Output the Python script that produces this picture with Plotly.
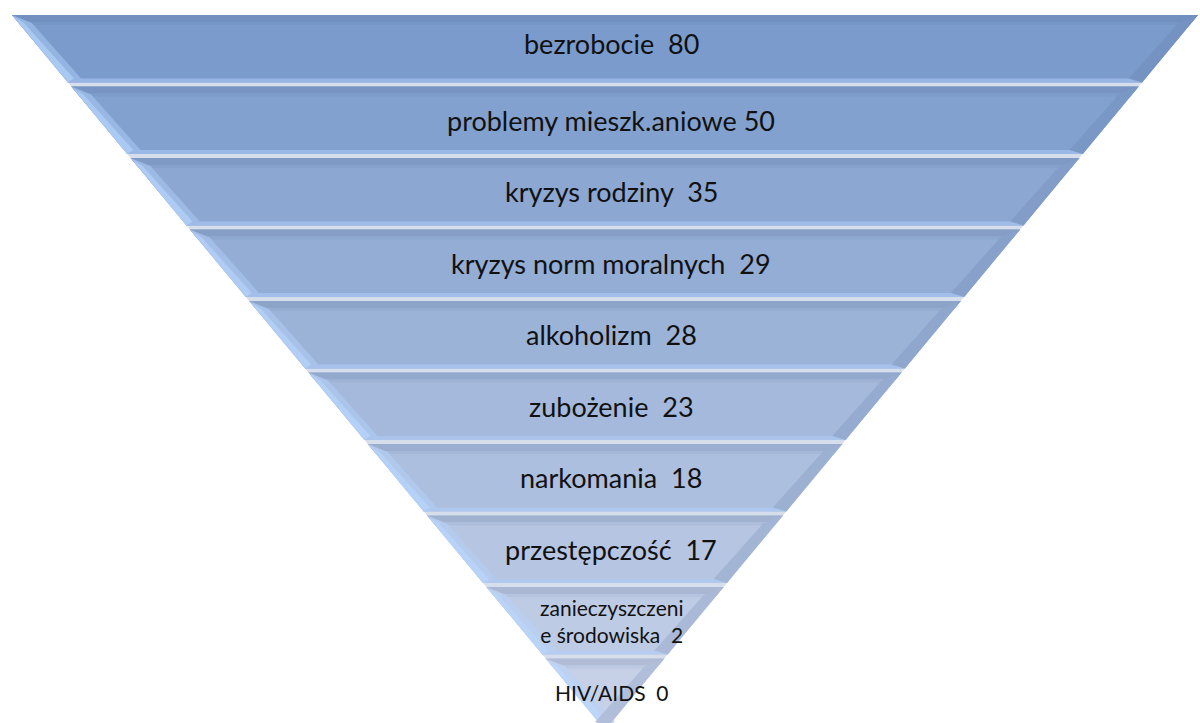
import plotly.graph_objects as go

labels = ["bezrobocie", "problemy mieszk.aniowe", "kryzys rodziny", "kryzys norm moralnych",
          "alkoholizm", "zubożenie", "narkomania", "przestępczość",
          "zanieczyszczeni<br>e środowiska", "HIV/AIDS"]
values = [80, 50, 35, 29, 28, 23, 18, 17, 2, 0]
seps = ["  ", " ", "  ", "  ", "  ", "  ", "  ", "  ", "  ", "  "]

W, H = 1200, 723
CX = 605
TOP_Y, APEX_Y = 15, 730
HALF_TOP = 593
N = len(labels)
LH = (APEX_Y - TOP_Y) / N
GAP = 4

def hw(y):
    return HALF_TOP * (APEX_Y - y) / (APEX_Y - TOP_Y)

def mix(c1, c2, t):
    return tuple(round(a + (b - a) * t) for a, b in zip(c1, c2))

def rgb(c, a=1):
    return f"rgba({c[0]},{c[1]},{c[2]},{a})"

C_TOP = (122, 155, 204)
C_BOT = (198, 209, 232)

fig = go.Figure()

def poly(pts, color):
    xs = [p[0] for p in pts] + [pts[0][0]]
    ys = [p[1] for p in pts] + [pts[0][1]]
    fig.add_trace(go.Scatter(x=xs, y=ys, mode="lines", fill="toself", fillcolor=color,
                             line=dict(width=0, color=color), hoverinfo="skip", showlegend=False))

# whole triangle background (gap colour)
poly([(CX - hw(TOP_Y), TOP_Y), (CX + hw(TOP_Y), TOP_Y), (CX, APEX_Y)], "rgb(214,222,236)")

for i in range(N):
    yt = TOP_Y + i * LH
    yb = yt + LH - GAP
    t = i / (N - 1)
    base = mix(C_TOP, C_BOT, t)
    dark = mix(base, (70, 90, 130), 0.25)
    light = mix(base, (175, 205, 250), 0.55)
    lt, rt = CX - hw(yt), CX + hw(yt)
    lb, rb = CX - hw(yb), CX + hw(yb)
    poly([(lt, yt), (rt, yt), (rb, yb), (lb, yb)], rgb(base))
    s = 7
    poly([(lt, yt), (rt, yt), (CX + hw(yt + s), yt + s), (CX - hw(yt + s), yt + s)], rgb(mix(base, dark, 0.7)))
    s2 = 3
    poly([(CX - hw(yt + s), yt + s), (CX + hw(yt + s), yt + s),
          (CX + hw(yt + s + s2), yt + s + s2), (CX - hw(yt + s + s2), yt + s + s2)], rgb(mix(base, dark, 0.3)))
    b = 4
    poly([(CX - hw(yb - b), yb - b), (CX + hw(yb - b), yb - b), (rb, yb), (lb, yb)], rgb(light))
    bw = 22
    poly([(lt, yt), (lb, yb), (lb + bw * 0.6, yb - 4), (lt + bw * 0.9, yt + 8)], rgb(mix(base, (180, 210, 252), 0.45)))
    poly([(lt + 2, yt + 2), (lb, yb), (lb + 6, yb - 4), (lt + 12, yt + 8)], rgb(mix(base, (185, 215, 255), 0.75)))
    poly([(rt, yt), (rb, yb), (rb - bw * 0.6, yb - 4), (rt - bw * 0.9, yt + 8)], rgb(mix(base, (90, 115, 160), 0.2)))

for i in range(N):
    yc = TOP_Y + i * LH + (LH - GAP) / 2
    if i == 0:
        yc -= 5
    size = 27 if i < 8 else 21
    fig.add_annotation(x=611, y=yc, text=f"{labels[i]}{seps[i]}{values[i]}", showarrow=False,
                       font=dict(family="Lato, Carlito, Calibri, sans-serif", size=size, color="#111111"),
                       xanchor="center", yanchor="middle", align="center")

fig.update_layout(width=W, height=H, margin=dict(l=0, r=0, t=0, b=0),
                  paper_bgcolor="white", plot_bgcolor="white",
                  xaxis=dict(range=[0, W], visible=False, fixedrange=True),
                  yaxis=dict(range=[H, 0], visible=False, fixedrange=True),
                  showlegend=False)
fig.write_html("out.html", config={"displayModeBar": False},
               post_script="document.body.style.margin='0';document.body.style.overflow='hidden';")
